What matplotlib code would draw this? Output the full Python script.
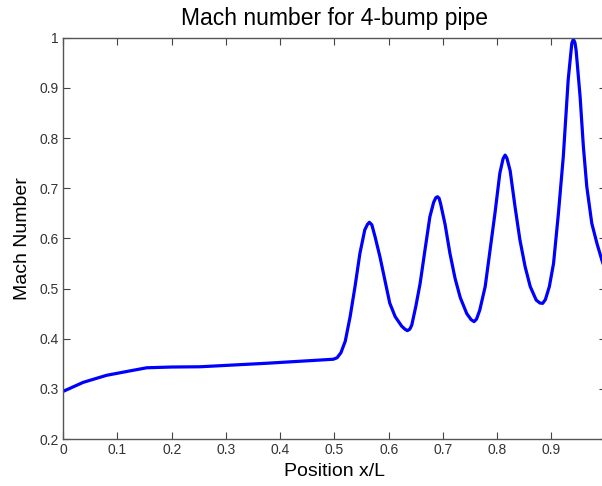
import matplotlib
matplotlib.use("Agg")
import matplotlib.pyplot as plt

plt.rcParams['font.family'] = ['Liberation Sans', 'DejaVu Sans']

# Mach number
x_pos = [0.000, 0.037, 0.080, 0.129, 0.154, 0.200, 0.252, 0.375, 0.498, 0.505,
         0.512, 0.520, 0.529, 0.538, 0.547, 0.556, 0.561, 0.5645, 0.569, 0.575,
         0.584, 0.593, 0.602, 0.612, 0.624, 0.630, 0.6345, 0.639, 0.6426, 0.650,
         0.658, 0.667, 0.676, 0.683, 0.687, 0.690, 0.693, 0.696, 0.704, 0.713,
         0.7225, 0.732, 0.744, 0.752, 0.7575, 0.762, 0.768, 0.778, 0.787, 0.796,
         0.805, 0.811, 0.8147, 0.818, 0.824, 0.833, 0.842, 0.8516, 0.861, 0.872,
         0.879, 0.884, 0.889, 0.8963, 0.904, 0.913, 0.922, 0.931, 0.9377, 0.9406,
         0.9435, 0.9456, 0.953, 0.959, 0.9653, 0.9745, 0.984, 0.993, 1.000]
mach = [0.295, 0.313, 0.327, 0.337, 0.342, 0.3435, 0.344, 0.351, 0.359, 0.362,
        0.372, 0.395, 0.444, 0.504, 0.570, 0.617, 0.628, 0.632, 0.627, 0.603,
        0.563, 0.517, 0.471, 0.444, 0.425, 0.419, 0.416, 0.419, 0.427, 0.464,
        0.510, 0.577, 0.643, 0.672, 0.681, 0.683, 0.680, 0.668, 0.628, 0.570,
        0.520, 0.482, 0.450, 0.438, 0.434, 0.439, 0.457, 0.504, 0.577, 0.650,
        0.730, 0.759, 0.766, 0.760, 0.735, 0.663, 0.597, 0.5435, 0.504, 0.477,
        0.471, 0.4705, 0.478, 0.504, 0.550, 0.650, 0.763, 0.916, 0.989, 0.997,
        0.990, 0.975, 0.882, 0.783, 0.703, 0.630, 0.590, 0.557, 0.535]

x_ticks = [0, 0.1, 0.2, 0.3, 0.4, 0.5, 0.6, 0.7, 0.8, 0.9]
y_ticks = [0.2, 0.3, 0.4, 0.5, 0.6, 0.7, 0.8, 0.9, 1]

fig = plt.figure(figsize=(6.02, 4.86), dpi=100)
ax = fig.add_axes([0.105, 0.0967, 0.901, 0.8257])

ax.plot(x_pos, mach, color='#0000ff', linewidth=2.3)

ax.set_xlim(0, 1)
ax.set_ylim(0.2, 1)
ax.set_xticks(x_ticks)
ax.set_xticklabels(['0', '0.1', '0.2', '0.3', '0.4', '0.5', '0.6', '0.7', '0.8', '0.9'])
ax.set_yticks(y_ticks)
ax.set_yticklabels(['0.2', '0.3', '0.4', '0.5', '0.6', '0.7', '0.8', '0.9', '1'])
ax.tick_params(direction='in', length=5, width=0.8, top=True, right=True,
               labelsize=10, labelcolor='#333333', color='#444444', pad=3)
for s in ax.spines.values():
    s.set_color('#555555')
    s.set_linewidth(1)

ax.set_title('Mach number for 4-bump pipe', fontsize=16.5, pad=9)
ax.set_xlabel('Position x/L', fontsize=14, labelpad=4)
ax.set_ylabel('Mach Number', fontsize=14, labelpad=6)

fig.savefig('out.png', dpi=100)
